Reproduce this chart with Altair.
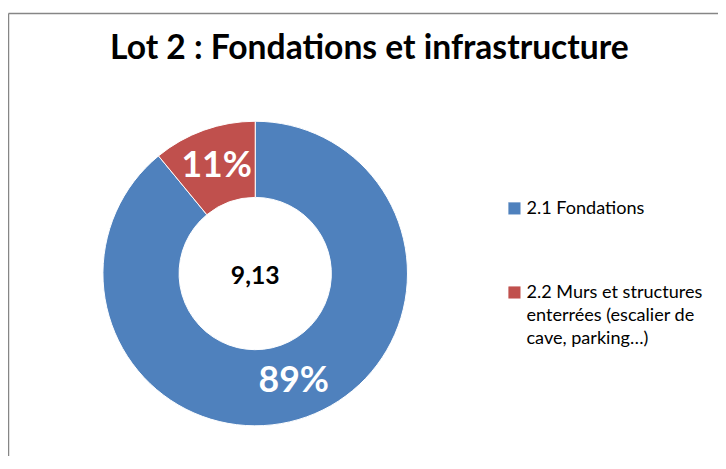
import altair as alt
import pandas as pd

# Data
categories = ["2.1 Fondations", "2.2 Murs et structures\nenterrées (escalier de\ncave, parking…)"]
values = [8.13, 1.00]
order_idx = [0, 1]
colors = ["#4F81BD", "#C0504D"]
title_text = "Lot 2 : Fondations et infrastructure"

df = pd.DataFrame({"cat": categories, "value": values, "idx": order_idx})

FONT = "Lato"
W, H = 717, 445
CX, CY = 249, 263  # donut centre inside the view

base = alt.Chart(df)

arcs = base.mark_arc(innerRadius=77, outerRadius=154, stroke="white", strokeWidth=1).encode(
    x=alt.value(CX),
    y=alt.value(CY),
    theta=alt.Theta("value:Q", stack=True),
    order=alt.Order("idx:Q"),
    color=alt.Color(
        "cat:N",
        scale=alt.Scale(domain=categories, range=colors),
        legend=alt.Legend(
            title=None,
            orient="none",
            legendX=502,
            legendY=188,
            symbolType="square",
            symbolSize=150,
            symbolStrokeWidth=0,
            labelFont=FONT,
            labelFontSize=18.3,
            labelColor="#000000",
            labelLimit=400,
            labelBaseline="top",
            labelOffset=3,
            rowPadding=66,
            labelExpr="split(datum.label, '\\n')",
        ),
    ),
)

pct = base.transform_joinaggregate(total="sum(value)").transform_calculate(
    pct="datum.value / datum.total"
).mark_text(radius=115.5, font=FONT, fontWeight="bold", fontSize=36, color="white").encode(
    x=alt.value(CX),
    y=alt.value(CY),
    theta=alt.Theta("value:Q", stack=True),
    order=alt.Order("idx:Q"),
    detail="cat:N",
    text=alt.Text("pct:Q", format=".0%"),
)

center = base.transform_aggregate(total="sum(value)").transform_calculate(
    lbl="replace(format(datum.total, '.2f'), '.', ',')"
).mark_text(font=FONT, fontWeight="bold", fontSize=25, color="black", dy=3).encode(
    x=alt.value(CX),
    y=alt.value(CY),
    text="lbl:N",
)

frame_src = alt.Chart(pd.DataFrame({"k": [0]}))
left_border = frame_src.mark_rule(color="#868686", strokeWidth=1.5).encode(
    x=alt.value(-0.5), y=alt.value(0), y2=alt.value(H + 20)
)
top_border = frame_src.mark_rule(color="#868686", strokeWidth=1.5).encode(
    x=alt.value(-0.5), x2=alt.value(W + 20), y=alt.value(0)
)

chart = alt.layer(left_border, top_border, arcs, pct, center).properties(
    width=W,
    height=H,
    autosize=alt.AutoSizeParams(type="none"),
    padding={"left": 1, "top": 3, "right": 0, "bottom": 0},
    title=alt.TitleParams(
        text=title_text,
        font=FONT,
        fontSize=34,
        fontWeight="bold",
        color="black",
        anchor="middle",
        frame="group",
        baseline="alphabetic",
        offset=0,
        dy=81,
        dx=6,
    ),
).configure(
    background="white",
    view=alt.ViewConfig(stroke=None, strokeWidth=0),
    style={"guide-label": {"lineHeight": 23, "dy": -8}},
)

chart.save("out.html", embed_options={"renderer": "svg", "actions": False})
